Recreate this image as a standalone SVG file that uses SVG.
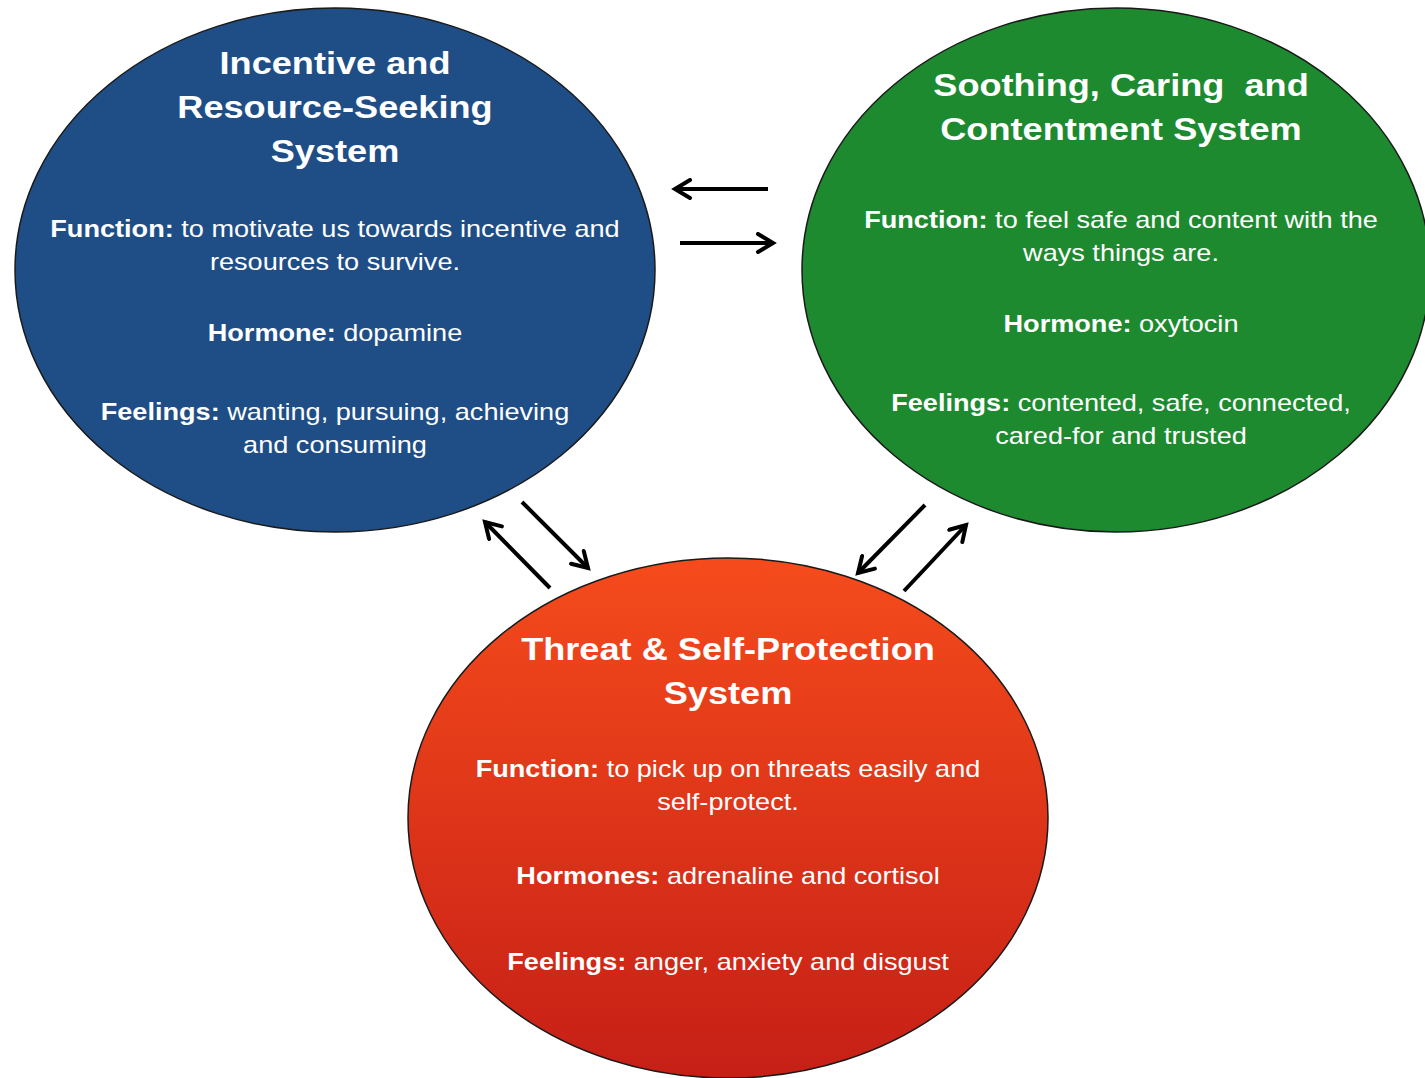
<svg xmlns="http://www.w3.org/2000/svg" width="1425" height="1078" viewBox="0 0 1425 1078">
<style>
.node ellipse{stroke:#1a1a1a;stroke-width:1.5}
text{font-family:"Liberation Sans",Arial,sans-serif;fill:#ffffff;text-anchor:middle;white-space:pre}
.t{font-size:32px;font-weight:bold}
.b{font-size:24px}
.b tspan.k{font-weight:bold}
.conn line{stroke:#000;stroke-width:4;fill:none;marker-end:url(#ah)}
</style>
<defs>
<linearGradient id="red" x1="0" y1="0" x2="0" y2="1">
<stop offset="0" stop-color="#f54b1c"/>
<stop offset="1" stop-color="#c61f16"/>
</linearGradient>
<marker id="ah" viewBox="0 0 22 22" refX="18" refY="11" markerWidth="22" markerHeight="22" markerUnits="userSpaceOnUse" orient="auto">
<path d="M3,2 L18,11 L3,20" fill="none" stroke="#000" stroke-width="4" stroke-linecap="round" stroke-linejoin="miter"/>
</marker>
</defs>
<rect width="1425" height="1078" fill="#ffffff"/>
<g id="incentive" class="node">
<ellipse cx="335" cy="270" rx="320" ry="262" fill="#1f4e86"/>
<g transform="translate(335,0) scale(1.13,1) translate(-335,0)">
<text class="t" x="335" y="74">Incentive and</text>
<text class="t" x="335" y="118">Resource-Seeking</text>
<text class="t" x="335" y="162">System</text>
<text class="b" x="335" y="237"><tspan class="k">Function:</tspan> to motivate us towards incentive and</text>
<text class="b" x="335" y="270">resources to survive.</text>
<text class="b" x="335" y="341"><tspan class="k">Hormone:</tspan> dopamine</text>
<text class="b" x="335" y="420"><tspan class="k">Feelings:</tspan> wanting, pursuing, achieving</text>
<text class="b" x="335" y="453">and consuming</text>
</g>
</g>
<g id="soothing" class="node">
<ellipse cx="1116" cy="270" rx="314" ry="262" fill="#1e8a2f"/>
<g transform="translate(1121,0) scale(1.13,1) translate(-1121,0)">
<text class="t" x="1121" y="96">Soothing, Caring  and</text>
<text class="t" x="1121" y="140">Contentment System</text>
<text class="b" x="1121" y="228"><tspan class="k">Function:</tspan> to feel safe and content with the</text>
<text class="b" x="1121" y="261">ways things are.</text>
<text class="b" x="1121" y="332"><tspan class="k">Hormone:</tspan> oxytocin</text>
<text class="b" x="1121" y="411"><tspan class="k">Feelings:</tspan> contented, safe, connected,</text>
<text class="b" x="1121" y="444">cared-for and trusted</text>
</g>
</g>
<g id="threat" class="node">
<ellipse cx="728" cy="818" rx="320" ry="260" fill="url(#red)"/>
<g transform="translate(728,0) scale(1.13,1) translate(-728,0)">
<text class="t" x="728" y="660">Threat &amp; Self-Protection</text>
<text class="t" x="728" y="704">System</text>
<text class="b" x="728" y="777"><tspan class="k">Function:</tspan> to pick up on threats easily and</text>
<text class="b" x="728" y="810">self-protect.</text>
<text class="b" x="728" y="884"><tspan class="k">Hormones:</tspan> adrenaline and cortisol</text>
<text class="b" x="728" y="970"><tspan class="k">Feelings:</tspan> anger, anxiety and disgust</text>
</g>
</g>
<g id="connectors" class="conn">
<line x1="768" y1="189" x2="675" y2="189"/>
<line x1="680" y1="243" x2="773" y2="243"/>
<line x1="550" y1="588" x2="485" y2="522"/>
<line x1="522" y1="502" x2="588" y2="568"/>
<line x1="925" y1="505" x2="858" y2="573"/>
<line x1="904" y1="591" x2="966" y2="525"/>
</g>
</svg>
